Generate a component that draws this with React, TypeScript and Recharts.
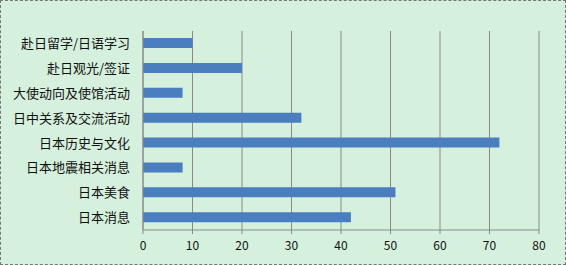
import { BarChart, Bar, XAxis, YAxis, CartesianGrid } from "recharts"

const categories = [
  "赴日留学/日语学习",
  "赴日观光/签证",
  "大使动向及使馆活动",
  "日中关系及交流活动",
  "日本历史与文化",
  "日本地震相关消息",
  "日本美食",
  "日本消息",
]

const counts = [10, 20, 8, 32, 72, 8, 51, 42]

const xTicks = [0, 10, 20, 30, 40, 50, 60, 70, 80]

const data = categories.map((name, i) => ({ name, value: counts[i] }))

export default function App() {
  return (
    <div
      style={{
        position: "absolute",
        left: 0,
        top: 0,
        width: 566,
        height: 265,
        boxSizing: "border-box",
        border: "1px dashed #777",
        background: "#d6f0de",
        fontFamily: "'Noto Sans CJK SC', 'Noto Sans', sans-serif",
      }}
    >
      <div style={{ position: "absolute", left: -1, top: -1 }}>
        <BarChart
          layout="vertical"
          width={566}
          height={265}
          data={data}
          margin={{ top: 31, right: 27, bottom: 0, left: 0 }}
        >
          <CartesianGrid horizontal={false} stroke="#8a8a8a" />

          <XAxis
            type="number"
            domain={[0, 80]}
            ticks={xTicks}
            height={35}
            tickSize={4}
            tickMargin={7}
            stroke="#8a8a8a"
            tick={{ fill: "#111", fontSize: 12 }}
          />

          <YAxis
            type="category"
            dataKey="name"
            width={143}
            tickLine={false}
            tickMargin={7}
            stroke="#8a8a8a"
            tick={{ fill: "#111", fontSize: 13 }}
          />

          <Bar
            dataKey="value"
            fill="#4a7ebf"
            barSize={10}
            isAnimationActive={false}
          />
        </BarChart>
      </div>
    </div>
  )
}
